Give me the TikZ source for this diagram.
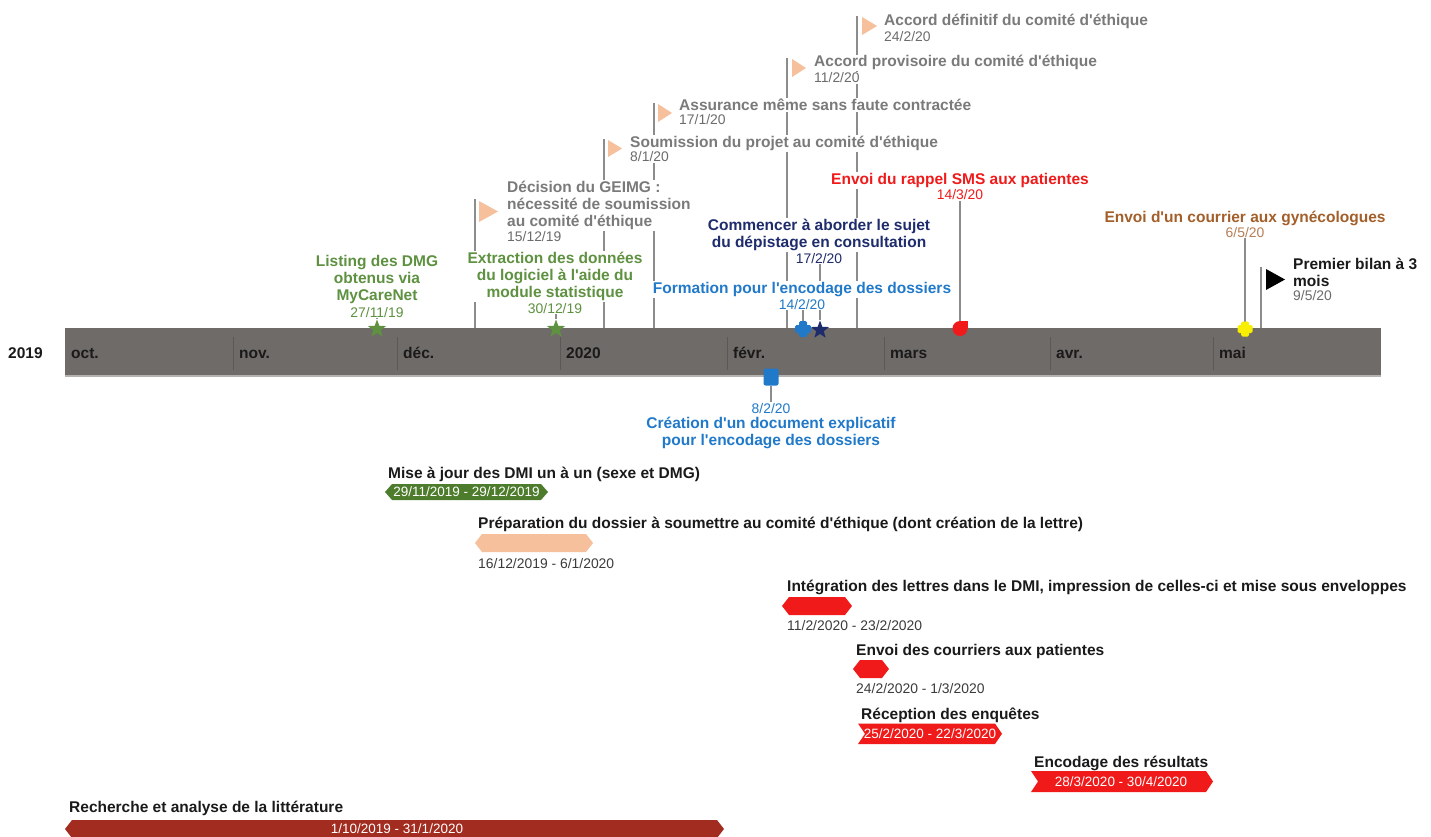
\documentclass[tikz,border=0pt]{standalone}
\usepackage{fontspec}
\setmainfont{Liberation Sans}
\usetikzlibrary{shapes.geometric,backgrounds}

\definecolor{bandgray}{HTML}{6F6B69}
\definecolor{bandedge}{HTML}{B4B1AF}
\definecolor{divgray}{HTML}{5C5856}
\definecolor{stemgray}{HTML}{8C8C8C}
\definecolor{flagtext}{HTML}{7A7A7A}
\definecolor{flagdate}{HTML}{6C6C6C}
\definecolor{peach}{HTML}{F5C09B}
\definecolor{leaf}{HTML}{5E9140}
\definecolor{navy}{HTML}{1E2C6C}
\definecolor{azure}{HTML}{2079C9}
\definecolor{alert}{HTML}{F01A1A}
\definecolor{rust}{HTML}{A35F2A}
\definecolor{canary}{HTML}{F8EF00}
\definecolor{moss}{HTML}{4E7C2D}
\definecolor{brick}{HTML}{A22C20}
\definecolor{ink}{HTML}{1A1A1A}

\newcommand{\ttlfont}{\fontsize{15.5}{17}\selectfont\bfseries}
\newcommand{\dtfont}{\fontsize{13.9}{16}\selectfont}
\newcommand{\barfont}{\fontsize{13.5}{16}\selectfont}

\tikzset{
	stemline/.style={draw=stemgray, line width=1.4pt},
	ttl/.style={font=\ttlfont, fill=white, inner sep=1pt},
	dte/.style={font=\dtfont, fill=white, inner sep=1pt},
	month/.style={font=\ttlfont, text=ink, anchor=base west, inner sep=0pt},
	bartxt/.style={font=\barfont, text=white, inner sep=0pt, anchor=base},
	mstar/.style={star, star points=5, star point ratio=2.4, inner sep=0pt, minimum size=19pt},
}

\begin{document}
\begin{tikzpicture}[x=1pt,y=-1pt]
		\useasboundingbox (0,0) rectangle (1431,837);

		% time band
		\node [fill=bandgray, minimum width=1316pt, minimum height=47pt, inner sep=0pt, anchor=north west] (band) at (65,328) {};
		\draw [line width=2pt, bandedge] ([yshift=-1pt]band.south west) -- ([yshift=-1pt]band.south east);
		\foreach \x in {233,397,560,727,884,1050,1213}
			\draw [divgray, line width=0.8pt] (\x,337) -- (\x,370);
		\foreach \x/\m in {65/oct.,233/nov.,397/déc.,560/2020,727/févr.,884/mars,1050/avr.,1213/mai}
			\node [month] (mon\x) at (\x+6,358.4) {\m};
		\node [month] (yr) at (8,358.4) {2019};

		% flags
		\coordinate (fl_def) at (857,16);
		\coordinate (fl_prov) at (787,58);
		\coordinate (fl_ass) at (654,103);
		\coordinate (fl_soum) at (604,139);
		\coordinate (fl_dec) at (475,199);
		\coordinate (fl_bil) at (1261,267);

		\fill [peach] (862,17) -- (862,35) -- (877,26) -- cycle;
		\fill [peach] (792,59) -- (792,77) -- (806,68) -- cycle;
		\fill [peach] (658,104) -- (658,122) -- (672,113) -- cycle;
		\fill [peach] (608,140) -- (608,157) -- (622,148.5) -- cycle;
		\fill [peach] (479,201) -- (479,222) -- (498,211.5) -- cycle;
		\fill [black] (1266,269) -- (1266,290) -- (1285,279.5) -- cycle;

		\node [ttl, text=flagtext, anchor=base west] (acc_def) at (883,25.5) {Accord définitif du comité d\textquotesingle éthique};
		\node [dte, text=flagdate, anchor=base west] (acc_def_d) at (883,41.5) {24/2/20};
		\node [ttl, text=flagtext, anchor=base west] (acc_prov) at (813,67) {Accord provisoire du comité d\textquotesingle éthique};
		\node [dte, text=flagdate, anchor=base west] (acc_prov_d) at (813,83) {11/2/20};
		\node [ttl, text=flagtext, anchor=base west] (assur) at (678,110.4) {Assurance même sans faute contractée};
		\node [dte, text=flagdate, anchor=base west] (assur_d) at (678,125) {17/1/20};
		\node [ttl, text=flagtext, anchor=base west] (soum) at (629,147.4) {Soumission du projet au comité d\textquotesingle éthique};
		\node [dte, text=flagdate, anchor=base west] (soum_d) at (629,162) {8/1/20};
		\node [ttl, text=flagtext, anchor=base west, align=left] (dec) at (506,226.4) {Décision du GEIMG :\\nécessité de soumission\\au comité d\textquotesingle éthique};
		\node [dte, text=flagdate, anchor=base west] (dec_d) at (506,241.5) {15/12/19};
		\node [ttl, text=ink, anchor=base west, align=left] (bilan) at (1292,286) {Premier bilan à 3\\mois};
		\node [dte, text=flagdate, anchor=base west] (bilan_d) at (1292,300.5) {9/5/20};

		% events with markers
		\node [ttl, text=leaf, align=center, anchor=base] (listing) at (377,300) {Listing des DMG\\obtenus via\\MyCareNet};
		\node [dte, text=leaf, anchor=base] (listing_d) at (377,317) {27/11/19};
		\node [ttl, text=leaf, align=center, anchor=base] (extr) at (555,297.4) {Extraction des données\\du logiciel à l\textquotesingle aide du\\module statistique};
		\node [dte, text=leaf, anchor=base] (extr_d) at (555,313) {30/12/19};
		\node [ttl, text=navy, align=center, anchor=base] (depist) at (819,247.4) {Commencer à aborder le sujet\\du dépistage en consultation};
		\node [dte, text=navy, anchor=base] (depist_d) at (819,263) {17/2/20};
		\node [ttl, text=azure, anchor=base] (form) at (802,293.4) {Formation pour l\textquotesingle encodage des dossiers};
		\node [dte, text=azure, anchor=base] (form_d) at (802,309) {14/2/20};
		\node [ttl, text=alert, anchor=base] (sms) at (960,184.4) {Envoi du rappel SMS aux patientes};
		\node [dte, text=alert, anchor=base] (sms_d) at (960,199.5) {14/3/20};
		\node [ttl, text=rust, anchor=base] (gyn) at (1245,222.4) {Envoi d\textquotesingle un courrier aux gynécologues};
		\node [dte, text=rust!80, anchor=base] (gyn_d) at (1245,237) {6/5/20};
		\node [dte, text=azure, anchor=base] (doc_d) at (771,413) {8/2/20};
		\node [ttl, text=azure, align=center, anchor=base] (doc) at (771,445.4) {Création d\textquotesingle un document explicatif\\pour l\textquotesingle encodage des dossiers};

		\node [mstar, fill=leaf] (m_list) at (377,329) {};
		\node [mstar, fill=leaf] (m_extr) at (556,329) {};
		\node [mstar, fill=navy] (m_dep) at (820,330) {};
		\coordinate (m_form) at (803,329);
		\fill [azure, rounded corners=1.5pt] (799,321) rectangle (807,337);
		\fill [azure, rounded corners=1.5pt] (795,325) rectangle (811,333);
		\coordinate (m_gyn) at (1245,329);
		\fill [canary, rounded corners=1.5pt] (1241,321.5) rectangle (1249,336.5);
		\fill [canary, rounded corners=1.5pt] (1237.5,325) rectangle (1252.5,333);
		\coordinate (m_sms) at (960,328.5);
		\fill [alert] (m_sms) circle (7.5);
		\fill [alert] (960,321) rectangle (967.5,328.5);
		\node [fill=azure, minimum width=15pt, minimum height=17pt, inner sep=0pt, rounded corners=2pt] (m_doc) at (771,377) {};

		% tasks
		\node [ttl, text=ink, anchor=base west] (maj) at (387,478.4) {Mise à jour des DMI un à un (sexe et DMG)};
		\fill [moss] (385,492) -- (392,484) -- (541,484) -- (548,492) -- (541,500) -- (392,500) -- cycle;
		\node [bartxt] (maj_d) at (466.5,496.8) {29/11/2019 - 29/12/2019};

		\node [ttl, text=ink, anchor=base west] (prep) at (477,528.4) {Préparation du dossier à soumettre au comité d\textquotesingle éthique (dont création de la lettre)};
		\fill [peach] (475,543) -- (482,534) -- (586,534) -- (593,543) -- (586,552) -- (482,552) -- cycle;
		\node [dte, text=ink!85, anchor=base west] (prep_d) at (477,568) {16/12/2019 - 6/1/2020};

		\node [ttl, text=ink, anchor=base west] (integ) at (786,591.4) {Intégration des lettres dans le DMI, impression de celles-ci et mise sous enveloppes};
		\fill [alert] (782,606) -- (789,597) -- (845,597) -- (852,606) -- (845,615) -- (789,615) -- cycle;
		\node [dte, text=ink!85, anchor=base west] (integ_d) at (786,630) {11/2/2020 - 23/2/2020};

		\node [ttl, text=ink, anchor=base west] (envoi) at (855,655.4) {Envoi des courriers aux patientes};
		\fill [alert] (853,669) -- (860,660) -- (882,660) -- (889,669) -- (882,678) -- (860,678) -- cycle;
		\node [dte, text=ink!85, anchor=base west] (envoi_d) at (855,693) {24/2/2020 - 1/3/2020};

		\node [ttl, text=ink, anchor=base west] (recep) at (860,719) {Réception des enquêtes};
		\fill [alert] (858,723.5) -- (995,723.5) -- (1002,733.75) -- (995,744) -- (858,744) -- (865,733.75) -- cycle;
		\node [bartxt] (recep_d) at (930,738.5) {25/2/2020 - 22/3/2020};

		\node [ttl, text=ink, anchor=base west] (encod) at (1033,767.4) {Encodage des résultats};
		\fill [alert] (1031,771) -- (1206,771) -- (1213,781.5) -- (1206,792) -- (1031,792) -- (1038,781.5) -- cycle;
		\node [bartxt] (encod_d) at (1121,786.3) {28/3/2020 - 30/4/2020};

		\node [ttl, text=ink, anchor=base west] (rech) at (68,812) {Recherche et analyse de la littérature};
		\fill [brick] (65,829) -- (72,820) -- (717,820) -- (724,829) -- (717,838) -- (72,838) -- cycle;
		\node [bartxt] (rech_d) at (397,833.8) {1/10/2019 - 31/1/2020};

		% stems behind the texts
		\begin{scope}[on background layer]
			\fill [white] (0,0) rectangle (1431,837);
			\draw [stemline] (fl_def) -- (fl_def |- band.north);
			\draw [stemline] (fl_prov) -- (fl_prov |- band.north);
			\draw [stemline] (fl_ass) -- (fl_ass |- band.north);
			\draw [stemline] (fl_soum) -- (fl_soum |- band.north);
			\draw [stemline] (fl_dec) -- (fl_dec |- band.north);
			\draw [stemline] (fl_bil) -- (fl_bil |- band.north);
			\draw [stemline] (m_list |- listing_d.south) -- (m_list);
			\draw [stemline] (m_extr |- extr_d.south) -- (m_extr);
			\draw [stemline] (m_dep |- depist_d.south) -- (m_dep);
			\draw [stemline] (m_form |- form_d.south) -- (m_form);
			\draw [stemline] (m_sms |- sms_d.south) -- (m_sms);
			\draw [stemline] (m_gyn |- gyn_d.south) -- (m_gyn);
			\draw [stemline] (m_doc) -- (m_doc |- doc_d.north);
		\end{scope}

	\end{tikzpicture}
\end{document}
